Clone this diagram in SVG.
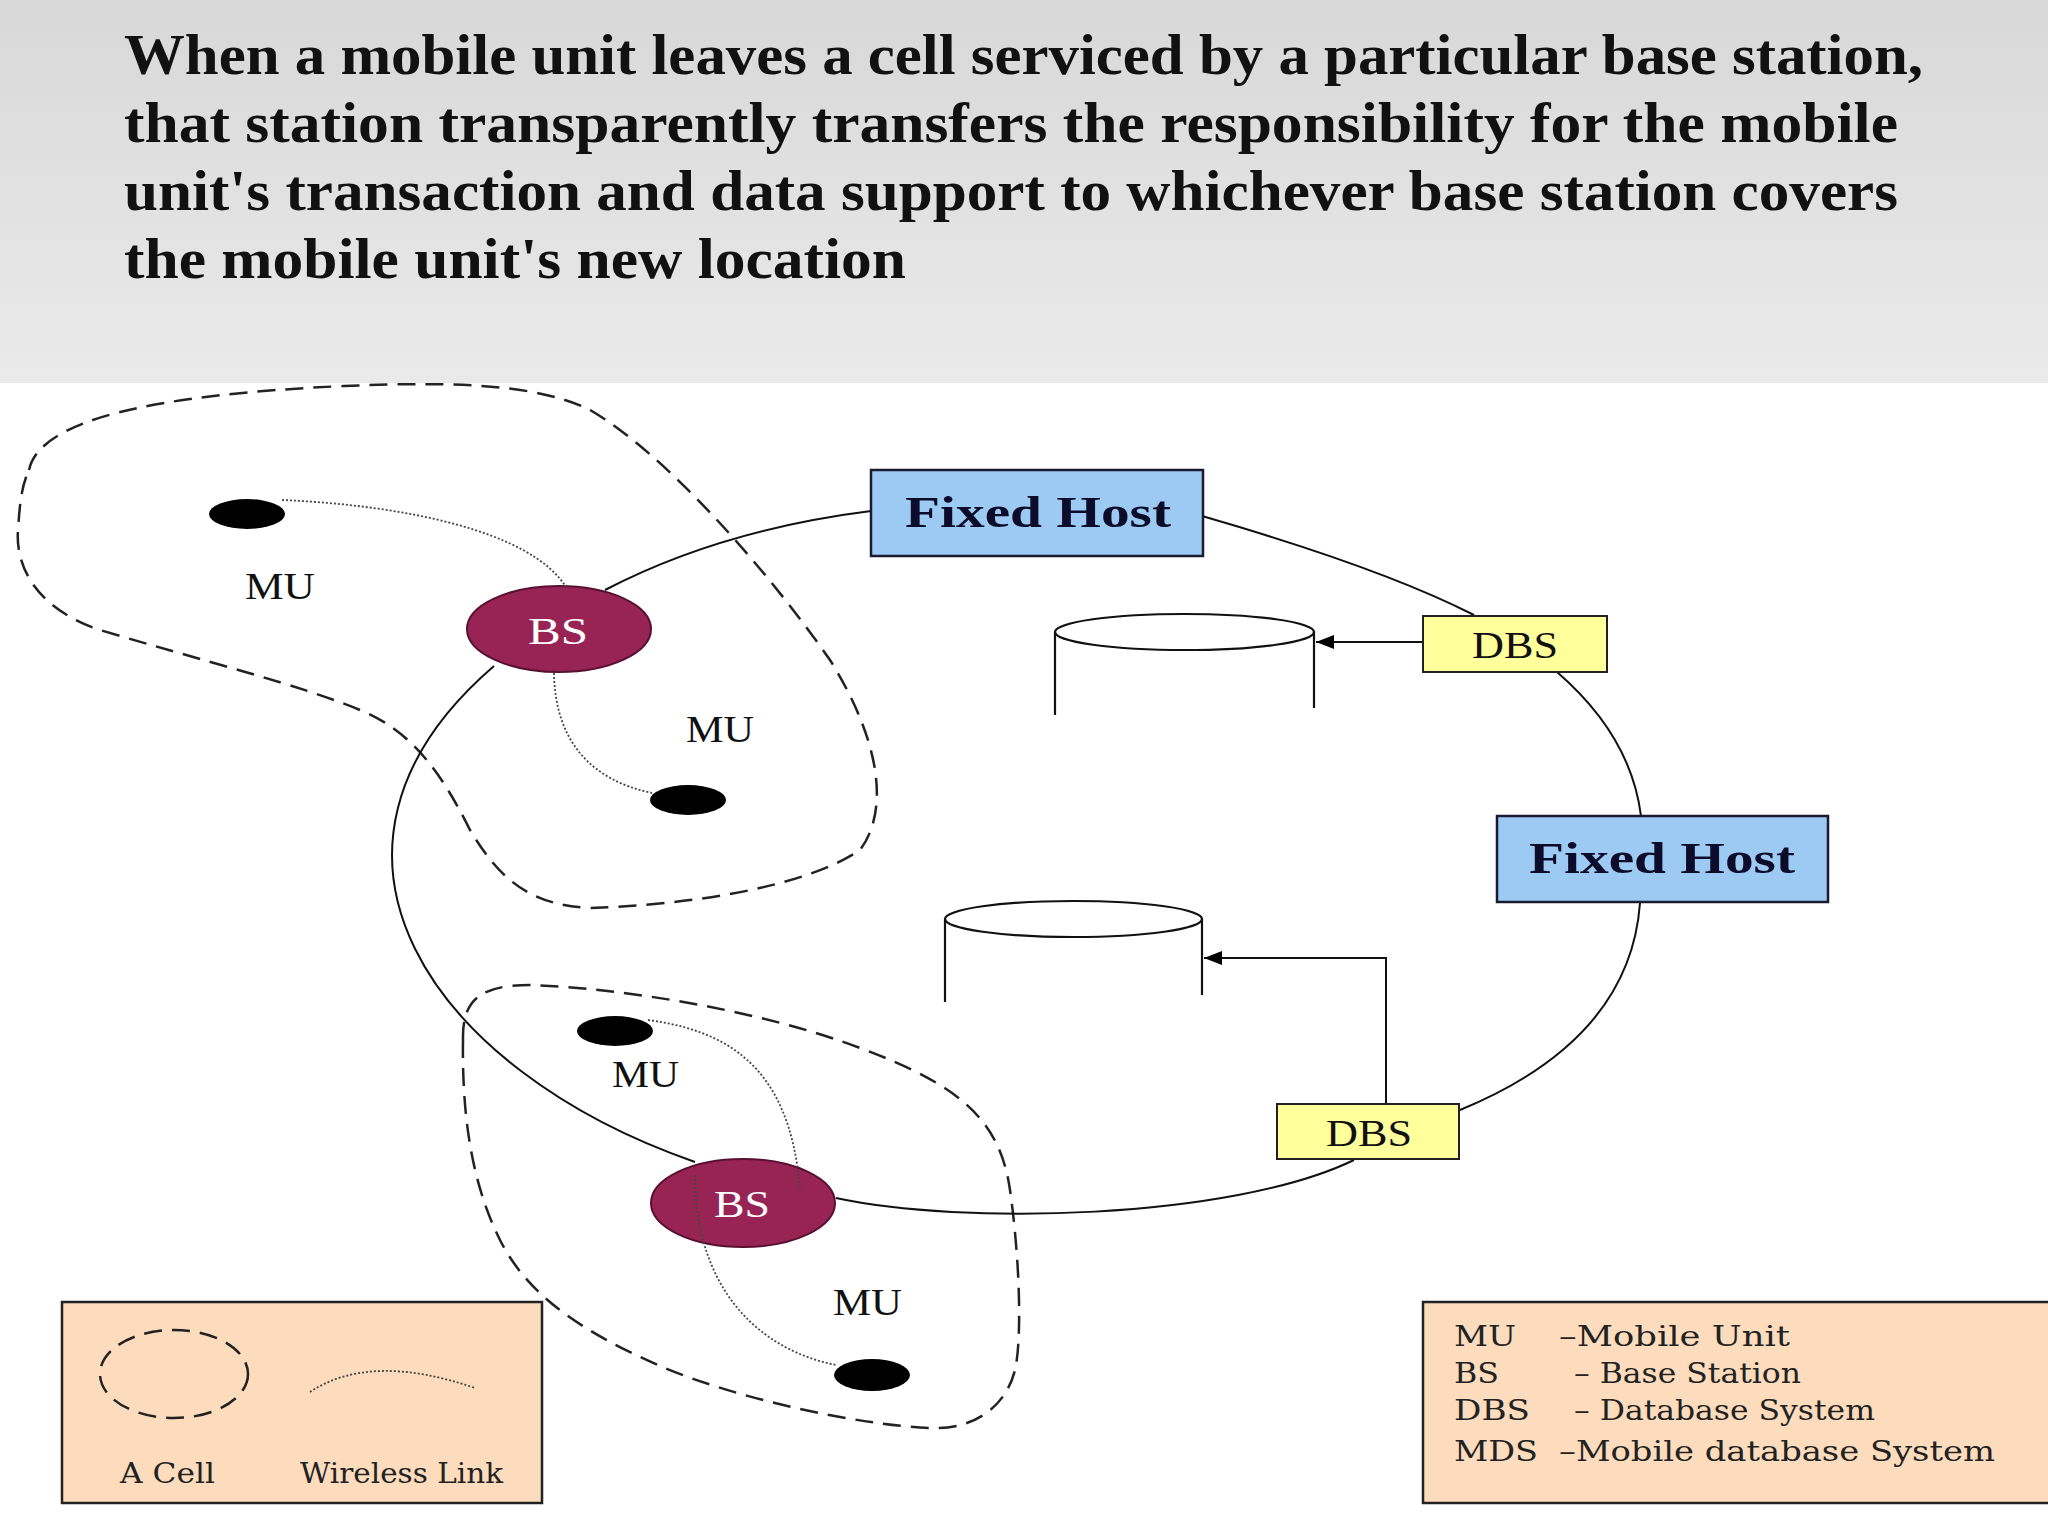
<svg xmlns="http://www.w3.org/2000/svg" width="2048" height="1536" viewBox="0 0 2048 1536">
<defs>
<linearGradient id="hdr" x1="0" y1="0" x2="0" y2="1">
<stop offset="0" stop-color="#d8d8d8"/>
<stop offset="1" stop-color="#eaeaea"/>
</linearGradient>
<marker id="arr" viewBox="0 0 18 14" refX="18" refY="7" markerWidth="18" markerHeight="14" markerUnits="userSpaceOnUse" orient="auto">
<path d="M0,0 L18,7 L0,14 Z" fill="#000"/>
</marker>
<style>
.title{font-family:"Liberation Serif",serif;font-weight:bold;font-size:56px;fill:#111;}
.ring{fill:none;stroke:#111;stroke-width:2;}
.cell{fill:none;stroke:#222;stroke-width:2.5;stroke-dasharray:18 10;}
.wl{fill:none;stroke:#444;stroke-width:1.8;stroke-dasharray:2 2;}
.fh{fill:#9ccaf2;stroke:#1a1a33;stroke-width:2.5;}
.fht{font-family:"Liberation Serif",serif;font-weight:bold;font-size:44px;fill:#0c0c2a;}
.dbs{fill:#ffff9c;stroke:#222;stroke-width:2;}
.lbl{font-family:"Liberation Serif",serif;font-size:38px;fill:#111;}
.bs{fill:#982456;stroke:#5a1030;stroke-width:2;}
.bst{font-family:"Liberation Serif",serif;font-size:38px;fill:#fff;}
.mu{fill:#000;}
.cyl{fill:none;stroke:#111;stroke-width:2.2;}
.leg{fill:#fcdcbd;stroke:#222;stroke-width:2.5;}
.legt{font-family:"DejaVu Serif",serif;font-size:27px;fill:#222;}
.arrow{fill:none;stroke:#111;stroke-width:2;}
</style>
</defs>
<rect x="0" y="0" width="2048" height="1536" fill="#fff"/>
<g id="header">
<rect x="0" y="0" width="2048" height="383" fill="url(#hdr)"/>
<text class="title" x="124" y="74" textLength="1799" lengthAdjust="spacingAndGlyphs">When a mobile unit leaves a cell serviced by a particular base station,</text>
<text class="title" x="124" y="142" textLength="1774" lengthAdjust="spacingAndGlyphs">that station transparently transfers the responsibility for the mobile</text>
<text class="title" x="124" y="210" textLength="1774" lengthAdjust="spacingAndGlyphs">unit's transaction and data support to whichever base station covers</text>
<text class="title" x="124" y="278" textLength="782" lengthAdjust="spacingAndGlyphs">the mobile unit's new location</text>
</g>
<g id="cells">
<path id="cell1" class="cell" d="M 29 470 C 40 420, 150 395, 344 386 C 460 381, 540 385, 590 410 C 660 450, 760 560, 830 660 C 880 740, 890 810, 860 850 C 800 890, 680 905, 590 908 C 530 905, 500 880, 470 830 C 440 770, 410 730, 360 710 C 300 685, 200 660, 100 630 C 40 610, 15 570, 18 530 C 20 500, 22 485, 29 470 Z"/>
<path id="cell2" class="cell" d="M 463 1040 C 462 1000, 480 985, 530 985 C 620 988, 760 1010, 860 1048 C 960 1085, 1000 1120, 1010 1190 C 1020 1260, 1022 1340, 1015 1370 C 1005 1410, 970 1430, 930 1428 C 860 1425, 740 1400, 660 1366 C 590 1335, 530 1300, 500 1240 C 470 1180, 462 1110, 463 1040 Z"/>
</g>
<g id="connectors">
<path class="ring" d="M 605 590 Q 720 530 871 511"/>
<path class="ring" d="M 1202 516 Q 1382 568 1474 615"/>
<path class="ring" d="M 1557 672 Q 1631 736 1641 816"/>
<path class="ring" d="M 1640 903 Q 1630 1040 1460 1110"/>
<path class="ring" d="M 1354 1160 C 1230 1220, 960 1225, 836 1198"/>
<path class="ring" d="M 695 1162 C 430 1070, 280 850, 494 666"/>
<path class="arrow" d="M 1423 642 L 1316 642" marker-end="url(#arr)"/>
<path class="arrow" d="M 1386 1103 L 1386 958 L 1204 958" marker-end="url(#arr)"/>
</g>
<g id="db1">
<path class="cyl" d="M 1055 632 L 1055 715 M 1314 632 L 1314 708"/>
<ellipse class="cyl" cx="1184.5" cy="632" rx="129.5" ry="18"/>
</g>
<g id="db2">
<path class="cyl" d="M 945 919 L 945 1002 M 1202 919 L 1202 995"/>
<ellipse class="cyl" cx="1073.5" cy="919" rx="128.5" ry="18"/>
</g>
<g id="fixed-host-1">
<rect class="fh" x="871" y="470" width="332" height="86"/>
<text class="fht" x="905" y="527" textLength="266" lengthAdjust="spacingAndGlyphs">Fixed Host</text>
</g>
<g id="fixed-host-2">
<rect class="fh" x="1497" y="816" width="331" height="86"/>
<text class="fht" x="1529" y="873" textLength="266" lengthAdjust="spacingAndGlyphs">Fixed Host</text>
</g>
<g id="dbs-1">
<rect class="dbs" x="1423" y="616" width="184" height="56"/>
<text class="lbl" x="1472" y="658" textLength="86" lengthAdjust="spacingAndGlyphs">DBS</text>
</g>
<g id="dbs-2">
<rect class="dbs" x="1277" y="1104" width="182" height="55"/>
<text class="lbl" x="1326" y="1146" textLength="86" lengthAdjust="spacingAndGlyphs">DBS</text>
</g>
<g id="bs-1">
<ellipse class="bs" cx="559" cy="629" rx="92" ry="43"/>
<text class="bst" x="528" y="644" textLength="60" lengthAdjust="spacingAndGlyphs">BS</text>
</g>
<g id="bs-2">
<ellipse class="bs" cx="743" cy="1203" rx="92" ry="44"/>
<text class="bst" x="714" y="1217" textLength="56" lengthAdjust="spacingAndGlyphs">BS</text>
</g>
<g id="wireless-links">
<path class="wl" d="M 282 500 C 400 505, 530 530, 566 587"/>
<path class="wl" d="M 554 673 C 555 740, 590 780, 652 793"/>
<path class="wl" d="M 648 1020 C 720 1030, 790 1060, 800 1190"/>
<path class="wl" d="M 695 1175 C 695 1290, 760 1350, 836 1365"/>
</g>
<g id="mu-1">
<ellipse class="mu" cx="247" cy="514" rx="38" ry="15"/>
<text class="lbl" x="245" y="599" textLength="70" lengthAdjust="spacingAndGlyphs">MU</text>
</g>
<g id="mu-2">
<ellipse class="mu" cx="688" cy="800" rx="38" ry="15"/>
<text class="lbl" x="686" y="742" textLength="68" lengthAdjust="spacingAndGlyphs">MU</text>
</g>
<g id="mu-3">
<ellipse class="mu" cx="615" cy="1031" rx="38" ry="15"/>
<text class="lbl" x="612" y="1087" textLength="67" lengthAdjust="spacingAndGlyphs">MU</text>
</g>
<g id="mu-4">
<ellipse class="mu" cx="872" cy="1375" rx="38" ry="16"/>
<text class="lbl" x="833" y="1315" textLength="69" lengthAdjust="spacingAndGlyphs">MU</text>
</g>
<g id="legend-symbols">
<rect class="leg" x="62" y="1302" width="480" height="201"/>
<ellipse class="cell" cx="174" cy="1374" rx="74" ry="44" stroke-dasharray="14 8"/>
<path class="wl" d="M 310 1392 Q 370 1352 475 1388"/>
<text class="legt" x="120" y="1483" textLength="95" lengthAdjust="spacingAndGlyphs">A Cell</text>
<text class="legt" x="300" y="1483" textLength="203" lengthAdjust="spacingAndGlyphs">Wireless Link</text>
</g>
<g id="legend-abbreviations">
<rect class="leg" x="1423" y="1302" width="640" height="201"/>
<text class="legt" x="1454" y="1346" textLength="62" lengthAdjust="spacingAndGlyphs">MU</text>
<text class="legt" x="1559" y="1346" textLength="231" lengthAdjust="spacingAndGlyphs">–Mobile Unit</text>
<text class="legt" x="1454" y="1383" textLength="45" lengthAdjust="spacingAndGlyphs">BS</text>
<text class="legt" x="1574" y="1383" textLength="227" lengthAdjust="spacingAndGlyphs">– Base Station</text>
<text class="legt" x="1454" y="1420" textLength="76" lengthAdjust="spacingAndGlyphs">DBS</text>
<text class="legt" x="1574" y="1420" textLength="301" lengthAdjust="spacingAndGlyphs">– Database System</text>
<text class="legt" x="1454" y="1461" textLength="84" lengthAdjust="spacingAndGlyphs">MDS</text>
<text class="legt" x="1559" y="1461" textLength="436" lengthAdjust="spacingAndGlyphs">–Mobile database System</text>
</g>
</svg>
